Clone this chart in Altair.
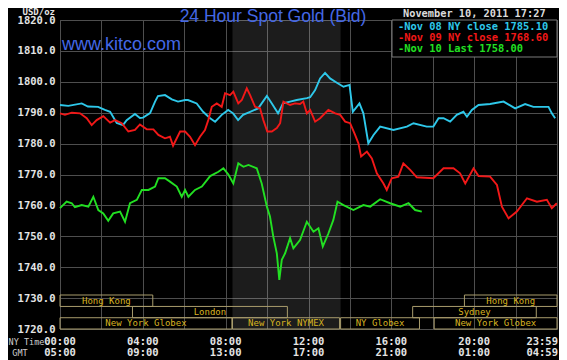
import altair as alt
import pandas as pd

# ---------------- data (hours since 00:00 NY time, USD/oz) ----------------
series_names = ["Nov 08 NY close", "Nov 09 NY close", "Nov 10 Last"]
series_close = [1785.10, 1768.60, 1758.00]

cyan_h = [0.00, 0.40, 1.05, 1.35, 1.84, 2.17, 2.42, 2.74, 3.04, 3.22,
          3.62, 3.86, 4.01, 4.35, 4.59, 4.73, 5.07, 5.40, 5.70, 6.04,
          6.18, 6.60, 6.91, 7.25, 7.49, 7.81, 8.12, 8.36, 8.60, 8.84,
          9.18, 9.57, 9.99, 10.23, 10.53, 10.77, 11.11, 11.43, 11.92, 12.08,
          12.32, 12.56, 12.80, 13.04, 13.37, 13.69, 13.98, 14.14, 14.46, 14.65,
          14.89, 15.14, 15.46, 16.10, 16.75, 17.07, 17.71, 18.03, 18.28, 18.52,
          18.84, 19.16, 19.48, 19.65, 19.89, 20.21, 20.77, 21.42, 21.98, 22.46,
          22.86, 23.59, 23.75, 23.91]
cyan_v = [1792.5, 1792.2, 1793.0, 1792.0, 1791.9, 1790.9, 1790.3, 1786.7, 1786.0, 1787.6,
          1789.6, 1788.3, 1788.4, 1789.9, 1793.6, 1795.4, 1795.7, 1794.3, 1793.6, 1794.1,
          1794.1, 1793.0, 1790.3, 1788.2, 1787.1, 1789.3, 1790.9, 1789.8, 1787.6, 1789.3,
          1790.3, 1791.4, 1795.4, 1793.0, 1789.8, 1793.0, 1793.6, 1794.1, 1794.7, 1795.0,
          1797.3, 1801.1, 1802.9, 1801.1, 1799.7, 1798.4, 1799.0, 1790.3, 1793.0, 1789.8,
          1780.1, 1782.8, 1785.5, 1784.4, 1785.5, 1786.6, 1785.5, 1785.5, 1788.2, 1788.2,
          1787.1, 1789.3, 1790.3, 1788.7, 1790.9, 1792.5, 1792.8, 1793.6, 1791.4, 1792.8,
          1791.9, 1791.9, 1789.8, 1788.2]

red_h = [0.00, 0.24, 0.57, 0.97, 1.29, 1.53, 1.77, 2.09, 2.42, 2.66,
         2.98, 3.30, 3.62, 3.86, 4.19, 4.51, 4.75, 5.07, 5.31, 5.46,
         5.80, 6.04, 6.28, 6.52, 6.76, 7.00, 7.16, 7.33, 7.57, 7.81,
         7.97, 8.21, 8.37, 8.61, 8.78, 9.02, 9.18, 9.42, 9.66, 9.82,
         10.01, 10.23, 10.47, 10.63, 10.79, 11.11, 11.35, 11.59, 11.75, 11.92,
         12.08, 12.32, 12.56, 12.96, 13.29, 13.53, 13.77, 14.01, 14.25, 14.41,
         14.54, 14.82, 15.06, 15.30, 15.62, 15.78, 16.02, 16.34, 16.58, 16.91,
         17.23, 18.03, 18.52, 19.00, 19.32, 19.57, 19.97, 20.21, 20.77, 21.10,
         21.34, 21.66, 22.06, 22.55, 23.03, 23.51, 23.75, 23.99]
red_v = [1789.8, 1789.3, 1790.0, 1789.8, 1788.2, 1786.0, 1787.6, 1788.9, 1786.8, 1787.6,
         1786.6, 1783.9, 1784.4, 1786.2, 1784.6, 1784.6, 1782.8, 1781.7, 1782.2, 1779.3,
         1783.9, 1783.9, 1782.2, 1779.5, 1782.2, 1784.4, 1787.6, 1791.9, 1793.0, 1791.9,
         1796.3, 1795.7, 1796.8, 1793.0, 1794.1, 1797.9, 1795.7, 1791.9, 1791.4, 1787.6,
         1783.9, 1783.9, 1785.0, 1786.6, 1793.6, 1792.5, 1793.0, 1792.8, 1793.6, 1789.8,
         1790.9, 1787.1, 1788.2, 1790.9, 1789.8, 1789.3, 1787.1, 1786.6, 1782.8, 1780.1,
         1775.8, 1777.4, 1775.2, 1770.4, 1767.1, 1765.0, 1768.8, 1769.3, 1773.6, 1771.5,
         1769.1, 1768.8, 1772.0, 1772.0, 1770.4, 1767.1, 1772.0, 1769.5, 1769.3, 1766.6,
         1759.6, 1755.8, 1758.0, 1762.3, 1761.2, 1761.8, 1759.1, 1760.7]

green_h = [0.00, 0.32, 0.57, 0.72, 1.05, 1.37, 1.61, 1.85, 2.09, 2.33,
           2.57, 2.90, 3.14, 3.38, 3.71, 3.95, 4.27, 4.59, 4.75, 5.07,
           5.31, 5.64, 5.88, 6.04, 6.20, 6.52, 6.85, 7.25, 7.65, 7.89,
           8.13, 8.37, 8.61, 8.86, 9.10, 9.50, 9.74, 9.99, 10.14, 10.30,
           10.47, 10.59, 10.71, 10.87, 11.11, 11.27, 11.59, 11.92, 12.24, 12.48,
           12.69, 12.96, 13.20, 13.40, 13.69, 14.17, 14.65, 14.98, 15.46, 15.94,
           16.43, 16.83, 17.15, 17.47]
green_v = [1759.1, 1761.2, 1760.7, 1759.4, 1760.1, 1759.6, 1762.8, 1758.5, 1757.4, 1755.0,
           1757.4, 1758.0, 1754.7, 1760.7, 1761.8, 1765.0, 1765.0, 1766.1, 1768.8, 1768.8,
           1767.7, 1766.1, 1762.8, 1765.0, 1762.8, 1765.0, 1766.1, 1769.5, 1770.9, 1772.0,
           1770.0, 1767.1, 1773.6, 1772.5, 1773.1, 1772.0, 1767.1, 1759.6, 1756.4, 1749.9,
           1744.5, 1735.9, 1742.4, 1744.5, 1749.4, 1746.1, 1748.8, 1754.7, 1751.5, 1752.6,
           1746.7, 1750.9, 1755.3, 1761.2, 1760.1, 1758.5, 1760.1, 1759.6, 1762.0, 1760.7,
           1759.6, 1760.7, 1758.5, 1758.0]

# trading sessions (hours NY time) and row (1 = top)
sess_name = ["Hong Kong", "London", "New York Globex", "New York NYMEX",
             "NY Globex", "New York Globex", "Sydney", "Hong Kong"]
sess_start = [0.0, 3.5, 0.0, 8.33, 13.55, 18.07, 17.03, 19.53]
sess_end = [4.48, 10.98, 8.3, 13.5, 17.36, 24.0, 23.0, 24.0]
sess_row = [1, 2, 3, 3, 3, 3, 2, 1]

pit_start, pit_end = 8.33, 13.55

tick_hours = [0, 4, 8, 12, 16, 20]
ny_labels = ["00:00", "04:00", "08:00", "12:00", "16:00", "20:00"]
gmt_labels = ["05:00", "09:00", "13:00", "17:00", "21:00", "01:00"]
end_ny, end_gmt = "23:59", "04:59"

# ---------------- styling ----------------
COLORS = ["#2ec8ea", "#f21818", "#22e022"]
GRID = "#4e4e4e"
MONO = "DejaVu Sans Mono"
W, H = 497, 309
ROW1, ROW2 = 322, 333

xscale = alt.Scale(domain=[0, 24], nice=False, zero=False)
yscale = alt.Scale(domain=[1720, 1820], nice=False, zero=False)
x_axis = alt.Axis(values=list(range(0, 25, 2)), grid=True, labels=False, ticks=False,
                  domain=False, title=None, gridColor=GRID, gridOpacity=1)
y_axis = alt.Axis(values=list(range(1720, 1821, 10)), format=".1f", grid=True,
                  ticks=False, tickSize=0, domain=False, title=None, gridColor=GRID,
                  gridOpacity=1, labelFont=MONO, labelFontWeight="bold",
                  labelFontSize=10.5, labelColor="#e4e4e4", labelPadding=5)

lines_df = pd.concat([
    pd.DataFrame({"h": cyan_h, "v": cyan_v, "s": series_names[0]}),
    pd.DataFrame({"h": red_h, "v": red_v, "s": series_names[1]}),
    pd.DataFrame({"h": green_h, "v": green_v, "s": series_names[2]}),
])

shade = alt.Chart(pd.DataFrame({"a": [pit_start], "b": [pit_end], "lo": [1720], "hi": [1820]})).mark_rect(
    color="white", opacity=0.11).encode(
    x=alt.X("a:Q", scale=xscale, axis=x_axis), x2="b:Q",
    y=alt.Y("lo:Q", scale=yscale, axis=y_axis), y2="hi:Q")

lines = alt.Chart(lines_df).mark_line(strokeWidth=1.9, interpolate="linear").encode(
    x=alt.X("h:Q", scale=xscale, axis=x_axis),
    y=alt.Y("v:Q", scale=yscale, axis=y_axis),
    color=alt.Color("s:N", scale=alt.Scale(domain=series_names, range=COLORS), legend=None),
    detail="s:N")

row_hi = {1: 1731.0, 2: 1727.3, 3: 1723.65}
row_lo = {1: 1727.3, 2: 1723.65, 3: 1720.0}
sess_df = pd.DataFrame({"name": sess_name, "start": sess_start, "end": sess_end, "row": sess_row})
sess_df["lo"] = sess_df["row"].map(row_lo)
sess_df["hi"] = sess_df["row"].map(row_hi)
sess_df["mid"] = (sess_df["start"] + sess_df["end"]) / 2
sess_df["ymid"] = (sess_df["lo"] + sess_df["hi"]) / 2

boxes = alt.Chart(sess_df).mark_rect(fillOpacity=0, stroke="#a89c6c", strokeWidth=1).encode(
    x=alt.X("start:Q", scale=xscale, axis=x_axis), x2="end:Q",
    y=alt.Y("lo:Q", scale=yscale, axis=y_axis), y2="hi:Q")
box_text = alt.Chart(sess_df).mark_text(font=MONO, fontSize=9, color="#d8b420", baseline="middle").encode(
    x=alt.X("mid:Q", scale=xscale, axis=x_axis),
    y=alt.Y("ymid:Q", scale=yscale, axis=y_axis),
    text="name:N")

# time labels
tdf = pd.DataFrame({"h": tick_hours, "ny": ny_labels, "gmt": gmt_labels})
edf = pd.DataFrame({"h": [24], "ny": [end_ny], "gmt": [end_gmt]})


def tlabels(df, field, ypix, **kw):
    return alt.Chart(df).mark_text(font=MONO, fontWeight="bold", fontSize=10.5, color="#e4e4e4",
                                   baseline="middle", **kw).encode(
        x=alt.X("h:Q", scale=xscale, axis=x_axis), y=alt.value(ypix), text=f"{field}:N")


ny_t = tlabels(tdf, "ny", ROW1)
gmt_t = tlabels(tdf, "gmt", ROW2)
ny_e = tlabels(edf, "ny", ROW1, align="right", dx=1)
gmt_e = tlabels(edf, "gmt", ROW2, align="right", dx=1)

one = pd.DataFrame({"a": [0]})


def label(txt, x, y, baseline="middle", **kw):
    return alt.Chart(one).mark_text(text=txt, baseline=baseline, **kw).encode(
        x=alt.value(x), y=alt.value(y))


row_lbl1 = label("NY Time", -33.5, ROW1, font=MONO, fontSize=8.5, color="#cfcfcf", align="center")
row_lbl2 = label("GMT", -40, ROW2, font=MONO, fontSize=8.5, color="#cfcfcf", align="center")

title = label("24 Hour Spot Gold (Bid)", 213, 2, baseline="alphabetic", font="Liberation Sans",
              fontSize=17.5, color="#4468e6", align="center")
usd = label("USD/oz", -5, -5.5, baseline="alphabetic", font=MONO, fontWeight="bold", fontSize=9,
            color="#e4e4e4", align="right")
date = label("November 10, 2011 17:27", 343, -6, font=MONO, fontWeight="bold", fontSize=10.3,
             color="#dcdcdc", align="left")
kitco = label("www.kitco.com", 2, 25, font="Liberation Sans", fontSize=18, color="#4468e6", align="left")

legend_box = alt.Chart(one).mark_rect(fill="black", stroke="#7a7a7a", strokeWidth=1).encode(
    x=alt.value(332), x2=alt.value(497), y=alt.value(0), y2=alt.value(37))
legend_txt = []
for i, (nm, cl) in enumerate(zip(series_names, series_close)):
    legend_txt.append(label(f"-{nm} {cl:.2f}", 338, 6.5 + 11 * i, font=MONO, fontWeight="bold",
                            fontSize=10.4, color=COLORS[i], align="left"))

chart = alt.layer(
    shade, boxes, box_text, lines, ny_t, gmt_t, ny_e, gmt_e, row_lbl1, row_lbl2,
    title, usd, date, kitco, legend_box, *legend_txt
).properties(
    width=W, height=H,
    autosize=alt.AutoSizeParams(type="none"),
    padding={"left": 52, "top": 12, "right": 2, "bottom": 31},
).configure(background="black").configure_view(stroke="#5a5a5a", strokeWidth=1)

chart.save("out.html", embed_options={"renderer": "svg", "actions": False})
